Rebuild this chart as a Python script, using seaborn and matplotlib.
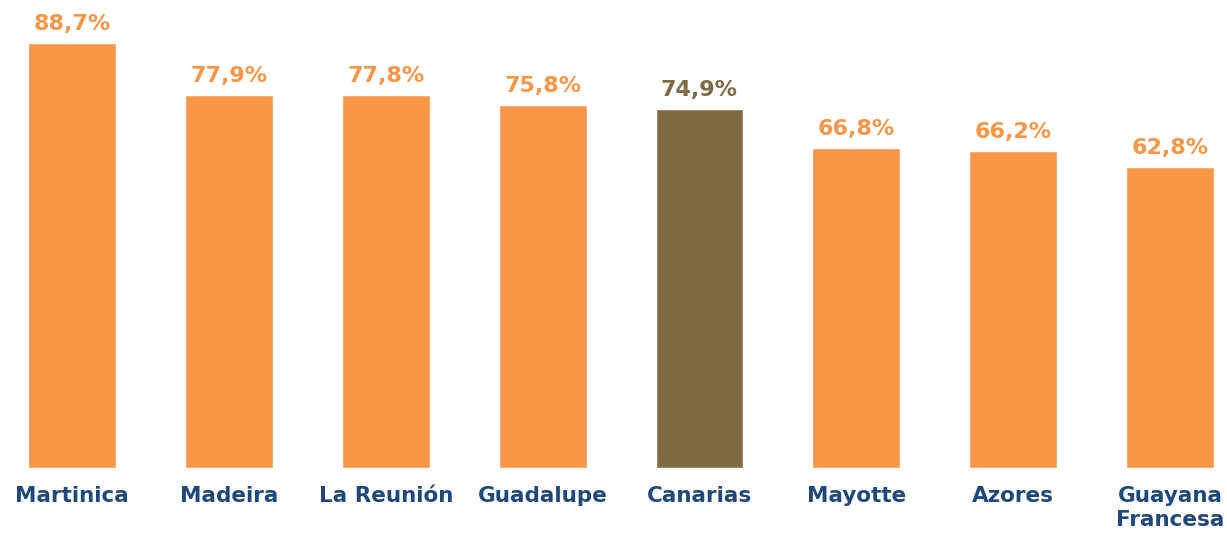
import matplotlib
matplotlib.use("Agg")
import matplotlib.pyplot as plt
import seaborn as sns
import pandas as pd

categories = ["Martinica", "Madeira", "La Reunión", "Guadalupe", "Canarias",
              "Mayotte", "Azores", "Guayana\nFrancesa"]
values = [88.7, 77.9, 77.8, 75.8, 74.9, 66.8, 66.2, 62.8]
labels = ["88,7%", "77,9%", "77,8%", "75,8%", "74,9%", "66,8%", "66,2%", "62,8%"]

orange = "#F79646"
brown = "#7F6A43"
navy = "#1F497D"
colors = [brown if c == "Canarias" else orange for c in categories]

sns.set_theme(style="white")
plt.rcParams['font.family'] = ['DejaVu Sans']

fig = plt.figure(figsize=(12.27, 5.36), dpi=100)
ax = fig.add_axes([0, 0.127, 1, 0.873])

df = pd.DataFrame({"cat": categories, "val": values})
sns.barplot(data=df, x="cat", y="val", hue="cat", palette=colors, legend=False,
            width=0.56, ax=ax, saturation=1)

for i, (v, lab, c) in enumerate(zip(values, labels, colors)):
    ax.text(i, v + 1.9, lab, ha="center", va="bottom", color=c,
            fontsize=16, fontweight="bold")

ax.set_xlim(-0.459, 7.363)
ax.set_ylim(0, 97.7)
ax.set_xlabel("")
ax.set_ylabel("")
ax.set_yticks([])
ax.tick_params(axis="x", length=0, pad=13)
for t in ax.get_xticklabels():
    t.set_color(navy)
    t.set_fontsize(15.5)
    t.set_fontweight("bold")
    t.set_va("top")
    t.set_linespacing(1.25)
for s in ax.spines.values():
    s.set_visible(False)

fig.savefig("out.png", dpi=100)
